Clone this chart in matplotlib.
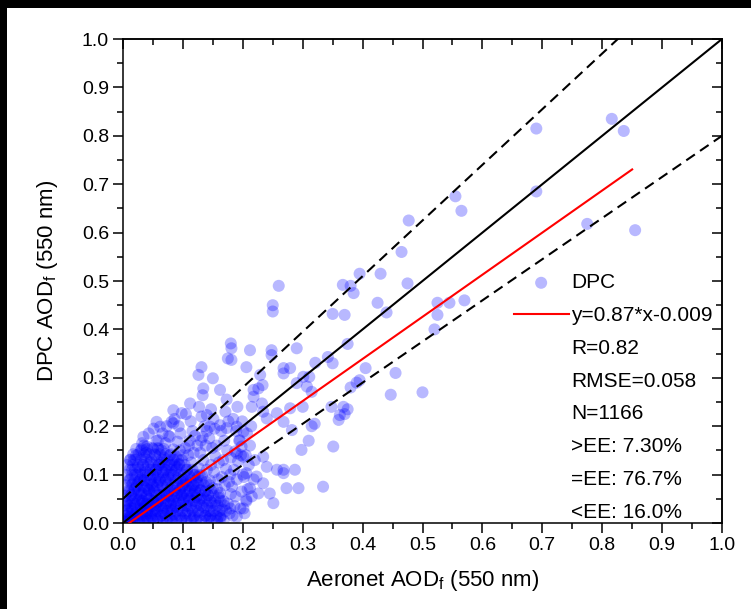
import matplotlib

matplotlib.use("Agg")
import matplotlib.pyplot as plt
import numpy as np
from matplotlib.lines import Line2D
from matplotlib.patches import Rectangle
from matplotlib.ticker import FormatStrFormatter

plt.rcParams["font.family"] = ["Liberation Sans", "DejaVu Sans"]
plt.rcParams["mathtext.fontset"] = "custom"
plt.rcParams["mathtext.rm"] = "Liberation Sans"

# dense cluster near origin
cluster = [
    (0.005, 0.002), (0.008, 0.01), (0.01, 0.02), (0.012, 0.005), (0.015, 0.03), (0.006, 0.04),
    (0.018, 0.012), (0.02, 0.05), (0.01, 0.065), (0.016, 0.08), (0.02, 0.1), (0.012, 0.09),
    (0.018, 0.13), (0.008, 0.028), (0.022, 0.022), (0.014, 0.045), (0.004, 0.015), (0.02, 0.07),
    (0.025, 0.115), (0.015, 0.11), (0.003, 0.055), (0.022, 0.14),
    (0.025, 0.005), (0.028, 0.018), (0.03, 0.03), (0.032, 0.045), (0.027, 0.06), (0.035, 0.075),
    (0.03, 0.09), (0.038, 0.105), (0.033, 0.12), (0.036, 0.135), (0.03, 0.15), (0.04, 0.01),
    (0.038, 0.025), (0.034, 0.04), (0.04, 0.055), (0.026, 0.085), (0.039, 0.145), (0.032, 0.165),
    (0.037, 0.002), (0.029, 0.1), (0.041, 0.07), (0.035, 0.16),
    (0.045, 0.005), (0.048, 0.02), (0.05, 0.035), (0.044, 0.05), (0.052, 0.065), (0.047, 0.08),
    (0.055, 0.095), (0.05, 0.11), (0.046, 0.125), (0.054, 0.14), (0.049, 0.155), (0.056, 0.17),
    (0.043, 0.185), (0.058, 0.01), (0.057, 0.042), (0.06, 0.058), (0.053, 0.028), (0.059, 0.085),
    (0.06, 0.12), (0.051, 0.195), (0.045, 0.1), (0.058, 0.155),
    (0.062, 0.003), (0.065, 0.015), (0.068, 0.03), (0.063, 0.045), (0.07, 0.06), (0.066, 0.075),
    (0.072, 0.09), (0.067, 0.105), (0.074, 0.12), (0.069, 0.135), (0.064, 0.15), (0.071, 0.165),
    (0.076, 0.18), (0.078, 0.008), (0.075, 0.025), (0.08, 0.04), (0.077, 0.055), (0.079, 0.07),
    (0.08, 0.1), (0.073, 0.2), (0.066, 0.185), (0.078, 0.14),
    (0.083, 0.004), (0.085, 0.018), (0.088, 0.033), (0.082, 0.048), (0.09, 0.062), (0.086, 0.078),
    (0.092, 0.092), (0.087, 0.108), (0.094, 0.122), (0.089, 0.137), (0.084, 0.152), (0.091, 0.168),
    (0.096, 0.185), (0.098, 0.01), (0.095, 0.026), (0.1, 0.043), (0.097, 0.058), (0.099, 0.075),
    (0.1, 0.09), (0.093, 0.2), (0.086, 0.215), (0.098, 0.13),
    (0.103, 0.005), (0.105, 0.02), (0.108, 0.035), (0.102, 0.05), (0.11, 0.065), (0.106, 0.08),
    (0.112, 0.095), (0.107, 0.11), (0.114, 0.125), (0.109, 0.14), (0.104, 0.155), (0.111, 0.17),
    (0.116, 0.19), (0.118, 0.012), (0.115, 0.028), (0.12, 0.045), (0.117, 0.06), (0.119, 0.078),
    (0.12, 0.1), (0.113, 0.21), (0.105, 0.225), (0.118, 0.145),
    (0.123, 0.006), (0.126, 0.022), (0.128, 0.038), (0.122, 0.053), (0.13, 0.068), (0.125, 0.083),
    (0.132, 0.098), (0.127, 0.113), (0.134, 0.13), (0.129, 0.145), (0.124, 0.16), (0.133, 0.178),
    (0.136, 0.2), (0.138, 0.015), (0.135, 0.032), (0.14, 0.048), (0.137, 0.065), (0.139, 0.085),
    (0.14, 0.11), (0.131, 0.22), (0.127, 0.24), (0.138, 0.16),
    (0.143, 0.008), (0.146, 0.025), (0.148, 0.042), (0.142, 0.058), (0.15, 0.072), (0.145, 0.088),
    (0.152, 0.105), (0.147, 0.12), (0.154, 0.138), (0.149, 0.155), (0.144, 0.175), (0.153, 0.195),
    (0.158, 0.012), (0.155, 0.035), (0.16, 0.052), (0.157, 0.07), (0.159, 0.09), (0.16, 0.125),
    (0.151, 0.215), (0.147, 0.235), (0.156, 0.16),
    (0.163, 0.01), (0.166, 0.028), (0.168, 0.045), (0.162, 0.062), (0.17, 0.078), (0.165, 0.095),
    (0.172, 0.112), (0.167, 0.13), (0.174, 0.15), (0.169, 0.17), (0.164, 0.19), (0.176, 0.21),
    (0.178, 0.02), (0.175, 0.04), (0.18, 0.06), (0.177, 0.085), (0.179, 0.1), (0.18, 0.135),
    (0.171, 0.23), (0.173, 0.255),
    (0.183, 0.015), (0.186, 0.035), (0.188, 0.055), (0.182, 0.075), (0.19, 0.09), (0.185, 0.11),
    (0.192, 0.128), (0.187, 0.148), (0.194, 0.17), (0.189, 0.19), (0.184, 0.215), (0.196, 0.03),
    (0.198, 0.065), (0.2, 0.1), (0.197, 0.14), (0.199, 0.21), (0.191, 0.24),
    (0.203, 0.02), (0.206, 0.045), (0.208, 0.07), (0.202, 0.095), (0.21, 0.12), (0.205, 0.14),
    (0.212, 0.16), (0.207, 0.185), (0.215, 0.055), (0.218, 0.09), (0.22, 0.13), (0.214, 0.2),
    (0.003, 0.003), (0.007, 0.006), (0.012, 0.012), (0.016, 0.004), (0.02, 0.016), (0.024, 0.01),
    (0.028, 0.028), (0.033, 0.015), (0.036, 0.033), (0.04, 0.02), (0.044, 0.038), (0.048, 0.012),
    (0.052, 0.045), (0.055, 0.025), (0.06, 0.035), (0.064, 0.05), (0.068, 0.02), (0.072, 0.04),
    (0.076, 0.065), (0.08, 0.028), (0.085, 0.055), (0.09, 0.04), (0.095, 0.07), (0.1, 0.06),
    (0.105, 0.085), (0.11, 0.05), (0.115, 0.075), (0.12, 0.065), (0.125, 0.095), (0.13, 0.05),
    (0.009, 0.035), (0.014, 0.058), (0.019, 0.04), (0.023, 0.075), (0.027, 0.048), (0.031, 0.062),
    (0.035, 0.088), (0.039, 0.04), (0.043, 0.068), (0.047, 0.09), (0.051, 0.075), (0.056, 0.11),
    (0.061, 0.09), (0.065, 0.125), (0.07, 0.11), (0.075, 0.095), (0.08, 0.12), (0.085, 0.13),
    (0.09, 0.115), (0.095, 0.15), (0.1, 0.14), (0.11, 0.16), (0.12, 0.18), (0.13, 0.17),
    (0.14, 0.19),
]

# the saturated core: rows of Aeronet values at roughly constant DPC value
core_rows = [
    (0.005, [0.002, 0.011, 0.019, 0.027, 0.034, 0.042, 0.051, 0.058, 0.066, 0.073, 0.081,
             0.089, 0.097, 0.106, 0.114, 0.121, 0.13, 0.139, 0.148, 0.157, 0.168]),
    (0.015, [0.004, 0.013, 0.021, 0.029, 0.038, 0.046, 0.054, 0.063, 0.071, 0.079, 0.087,
             0.095, 0.104, 0.112, 0.119, 0.128, 0.137, 0.146, 0.155, 0.164]),
    (0.025, [0.006, 0.015, 0.024, 0.032, 0.041, 0.049, 0.057, 0.066, 0.074, 0.082, 0.091,
             0.099, 0.108, 0.116, 0.125, 0.134, 0.143, 0.152, 0.161, 0.172]),
    (0.036, [0.003, 0.012, 0.02, 0.029, 0.037, 0.046, 0.055, 0.063, 0.071, 0.08, 0.088,
             0.097, 0.105, 0.113, 0.122, 0.131, 0.14, 0.149, 0.158, 0.169]),
    (0.046, [0.007, 0.016, 0.025, 0.033, 0.042, 0.05, 0.059, 0.068, 0.076, 0.084, 0.093,
             0.101, 0.11, 0.118, 0.127, 0.136, 0.145, 0.154, 0.163]),
    (0.057, [0.004, 0.013, 0.022, 0.03, 0.039, 0.047, 0.056, 0.064, 0.073, 0.081, 0.09,
             0.098, 0.107, 0.115, 0.124, 0.133, 0.142, 0.151, 0.16]),
    (0.067, [0.009, 0.018, 0.026, 0.035, 0.044, 0.052, 0.061, 0.069, 0.078, 0.086, 0.095,
             0.103, 0.112, 0.12, 0.129, 0.138, 0.147]),
    (0.078, [0.005, 0.014, 0.023, 0.031, 0.04, 0.049, 0.057, 0.066, 0.074, 0.083, 0.091,
             0.1, 0.108, 0.117, 0.126, 0.135, 0.144]),
    (0.088, [0.01, 0.019, 0.028, 0.036, 0.045, 0.054, 0.062, 0.071, 0.079, 0.088, 0.096,
             0.105, 0.113, 0.122, 0.131]),
    (0.099, [0.006, 0.015, 0.024, 0.033, 0.041, 0.05, 0.058, 0.067, 0.076, 0.084, 0.093,
             0.101, 0.11, 0.119, 0.128]),
    (0.110, [0.011, 0.02, 0.029, 0.037, 0.046, 0.055, 0.063, 0.072, 0.081, 0.089, 0.098,
             0.107, 0.116]),
    (0.120, [0.007, 0.016, 0.025, 0.034, 0.042, 0.051, 0.06, 0.068, 0.077, 0.086, 0.094,
             0.103]),
    (0.131, [0.012, 0.021, 0.03, 0.039, 0.047, 0.056, 0.065, 0.074, 0.083, 0.092]),
    (0.142, [0.017, 0.026, 0.035, 0.044, 0.053, 0.062, 0.071, 0.08]),
    (0.153, [0.022, 0.031, 0.04, 0.05, 0.059, 0.068]),
]

# sparser points away from the core
scattered = [
    (0.26, 0.49), (0.25, 0.45), (0.25, 0.437), (0.367, 0.492), (0.35, 0.432), (0.18, 0.371),
    (0.181, 0.361), (0.175, 0.34), (0.181, 0.337), (0.212, 0.357), (0.248, 0.357), (0.248, 0.347),
    (0.29, 0.361), (0.131, 0.322), (0.126, 0.306), (0.15, 0.299), (0.206, 0.322), (0.162, 0.275),
    (0.134, 0.278), (0.133, 0.264), (0.229, 0.306), (0.226, 0.278), (0.218, 0.275), (0.233, 0.285),
    (0.268, 0.32), (0.279, 0.32), (0.268, 0.309), (0.29, 0.289), (0.301, 0.302), (0.321, 0.331),
    (0.311, 0.302), (0.307, 0.282), (0.315, 0.271), (0.368, 0.24), (0.362, 0.223), (0.36, 0.213),
    (0.348, 0.24), (0.112, 0.247), (0.098, 0.227), (0.084, 0.233), (0.081, 0.209), (0.062, 0.199),
    (0.056, 0.209), (0.14, 0.223), (0.145, 0.199), (0.162, 0.202), (0.173, 0.196), (0.19, 0.199),
    (0.201, 0.189), (0.195, 0.171), (0.198, 0.158), (0.19, 0.144), (0.201, 0.137), (0.218, 0.261),
    (0.232, 0.247), (0.215, 0.24), (0.234, 0.23), (0.24, 0.216), (0.257, 0.227), (0.268, 0.209),
    (0.282, 0.192), (0.279, 0.237), (0.298, 0.151), (0.234, 0.137), (0.24, 0.116), (0.257, 0.11),
    (0.268, 0.103), (0.268, 0.11), (0.287, 0.11), (0.293, 0.072), (0.273, 0.072), (0.334, 0.075),
    (0.251, 0.041), (0.226, 0.061), (0.245, 0.061), (0.351, 0.158), (0.223, 0.096), (0.234, 0.082),
    (0.206, 0.103), (0.212, 0.072), (0.206, 0.048), (0.201, 0.03), (0.19, 0.013), (0.179, 0.03),
    (0.162, 0.013), (0.145, 0.013), (0.012, 0.13), (0.034, 0.178), (0.04, 0.158), (0.059, 0.171),
    (0.078, 0.178), (0.084, 0.206),
    (0.395, 0.515), (0.43, 0.515), (0.38, 0.49), (0.385, 0.475), (0.37, 0.43), (0.425, 0.455),
    (0.44, 0.435), (0.475, 0.495), (0.465, 0.56), (0.477, 0.625), (0.555, 0.675), (0.565, 0.645),
    (0.525, 0.455), (0.525, 0.43), (0.52, 0.40), (0.545, 0.455), (0.57, 0.46), (0.50, 0.27),
    (0.455, 0.31), (0.447, 0.265), (0.405, 0.32), (0.39, 0.29), (0.395, 0.295), (0.375, 0.37),
    (0.38, 0.28), (0.342, 0.343), (0.35, 0.33), (0.37, 0.225), (0.375, 0.235), (0.32, 0.205),
    (0.30, 0.24), (0.315, 0.20), (0.31, 0.17),
    (0.69, 0.815), (0.816, 0.835), (0.836, 0.81), (0.69, 0.685), (0.775, 0.618), (0.855, 0.605),
]

fit_slope, fit_intercept = 0.87, -0.009
fit_xrange = (0.01, 0.85)
ee_abs, ee_rel = 0.05, 0.15

legend_labels = [
    "DPC",
    "y=0.87*x-0.009",
    "R=0.82",
    "RMSE=0.058",
    "N=1166",
    ">EE: 7.30%",
    "=EE: 76.7%",
    "<EE: 16.0%",
]

core_pts = [(x, y) for y, xs in core_rows for x in xs]
pts = np.array(cluster + core_pts + scattered)

fig = plt.figure(figsize=(7.51, 6.09), dpi=100, facecolor="white")
ax = fig.add_axes([123 / 751, 86 / 609, 599 / 751, 484 / 609])

sc = ax.scatter(pts[:, 0], pts[:, 1], s=75, color="#0000ff", alpha=0.28,
                edgecolors="none", zorder=2)

xx = np.array([0.0, 1.0])
ax.plot(xx, xx, color="black", lw=1.5, zorder=3)
ax.plot(xx, xx * (1 + ee_rel) + ee_abs, color="black", lw=1.5,
        ls=(0, (5, 3)), zorder=3)
ax.plot(xx, xx * (1 - ee_rel) - ee_abs, color="black", lw=1.5,
        ls=(0, (5, 3)), zorder=3)
fx = np.array(fit_xrange)
(fit_line,) = ax.plot(fx, fit_slope * fx + fit_intercept, color="red", lw=1.5, zorder=4)

ax.set_xlim(0, 1)
ax.set_ylim(0, 1)
ticks = np.arange(0, 1.01, 0.1)
minor = np.arange(0.05, 1.0, 0.1)
ax.set_xticks(ticks)
ax.set_yticks(ticks)
ax.set_xticks(minor, minor=True)
ax.set_yticks(minor, minor=True)
ax.xaxis.set_major_formatter(FormatStrFormatter("%.1f"))
ax.yaxis.set_major_formatter(FormatStrFormatter("%.1f"))
ax.tick_params(which="major", direction="out", length=7, width=1.1,
               labelsize=14, pad=3, colors="black")
ax.tick_params(which="minor", direction="out", length=4, width=1.1)
for sp in ax.spines.values():
    sp.set_linewidth(1.1)

# mirrored ticks on top and right, pointing inward
top = ax.secondary_xaxis("top")
right = ax.secondary_yaxis("right")
for sec in (top, right):
    sec.set_ticks(ticks)
    sec.tick_params(which="major", direction="in", length=7, width=1.1,
                    labelleft=False, labelright=False, labeltop=False,
                    labelbottom=False)
    sec.tick_params(which="minor", direction="in", length=4, width=1.1)
    sec.spines[:].set_linewidth(1.1)
top.set_xticks(minor, minor=True)
right.set_yticks(minor, minor=True)

ax.set_xlabel(r"Aeronet AOD$_\mathregular{f}$ (550 nm)", fontsize=16, labelpad=10)
ax.set_ylabel(r"DPC AOD$_\mathregular{f}$ (550 nm)", fontsize=16, labelpad=16)

handles = [sc, fit_line] + [Line2D([], [], ls="none") for _ in legend_labels[2:]]
ax.legend(handles, legend_labels, loc="upper left", scatterpoints=1,
          bbox_to_anchor=(0.652, 0.516), frameon=False, fontsize=15,
          borderpad=0, borderaxespad=0, handlelength=2.65,
          handletextpad=0.12, labelspacing=0.66)

# black strips along the top and left edge of the reference image
fig.add_artist(Rectangle((0, 1 - 8 / 609), 1, 8 / 609, transform=fig.transFigure,
                         facecolor="black", edgecolor="none", zorder=10))
fig.add_artist(Rectangle((0, 0), 7 / 751, 1, transform=fig.transFigure,
                         facecolor="black", edgecolor="none", zorder=10))

fig.savefig("out.png", dpi=100, facecolor="white")
